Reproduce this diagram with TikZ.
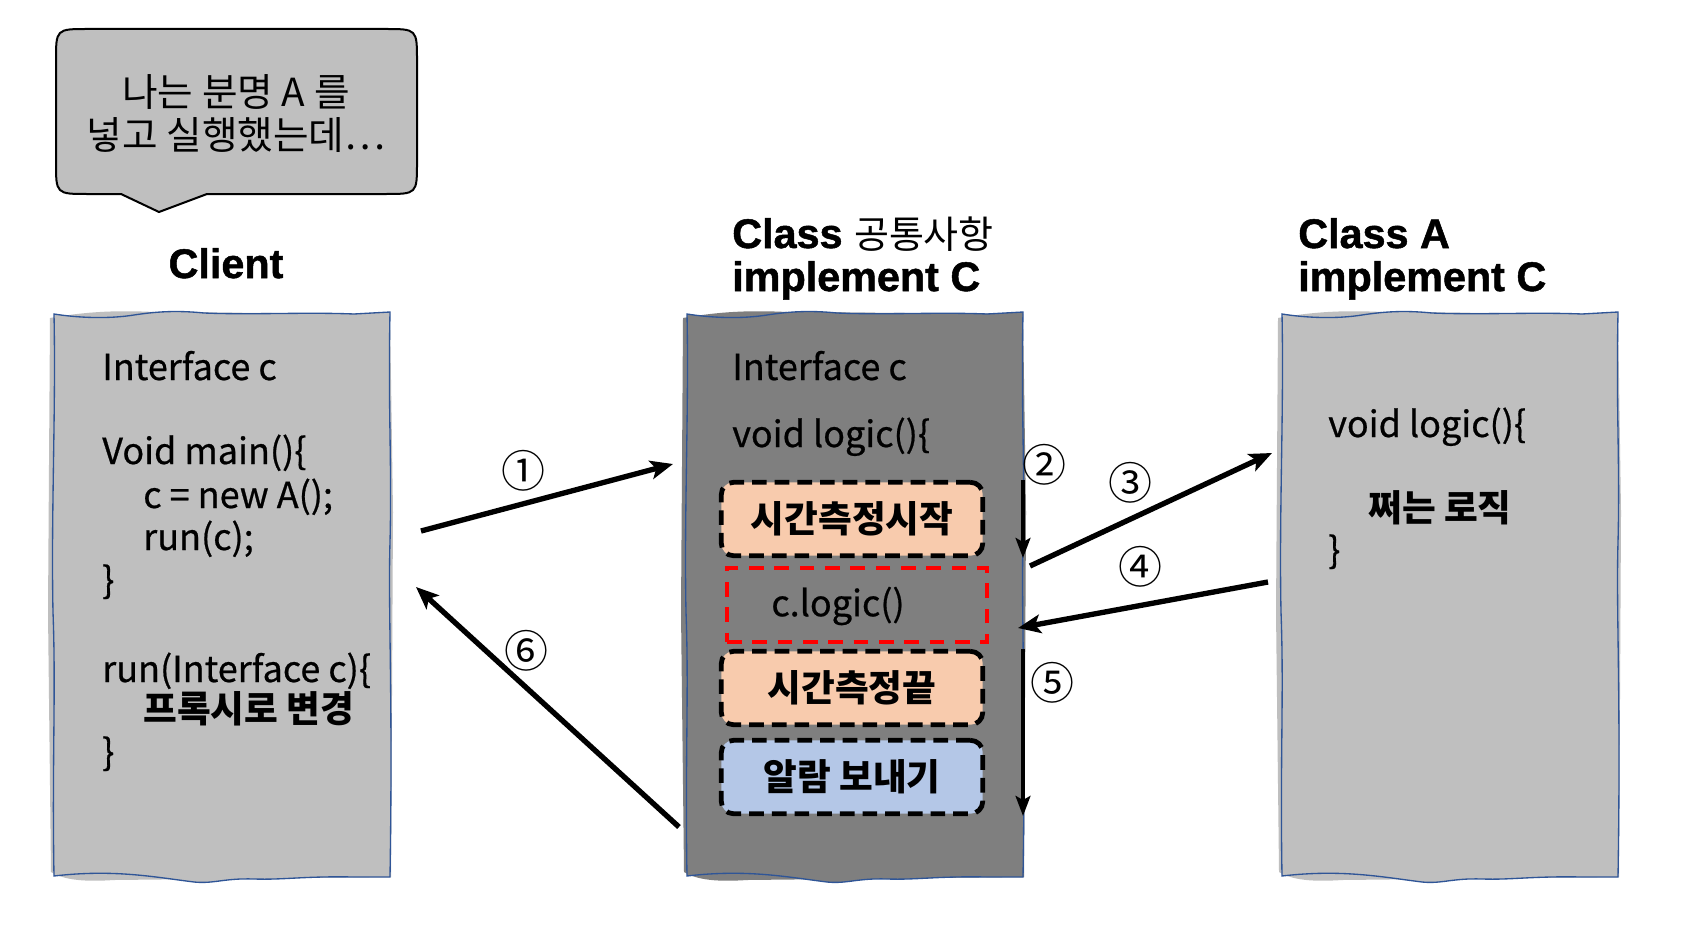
\documentclass[tikz,border=0pt]{standalone}
\usepackage{fontspec}
\setmainfont{Noto Sans CJK KR}
\newfontfamily\headfont{Liberation Sans}[FakeBold=1.2]
\newfontfamily\bodyfont{Noto Sans CJK KR}[FakeBold=0.6]
\usetikzlibrary{arrows.meta}
\definecolor{cGray}{HTML}{BFBFBF}
\definecolor{cDark}{HTML}{7F7F7F}
\definecolor{cEdge}{HTML}{2F5597}
\definecolor{cPeach}{HTML}{F8CBAD}
\definecolor{cBlue}{HTML}{B4C7E7}
\definecolor{cRed}{HTML}{FF0000}
\tikzset{
  x=0.75pt, y=-0.75pt,
  skline/.style={draw=cEdge, line width=1pt},
  pics/skbox/.style={code={
    \fill[#1] (-4,6) .. controls (30,0) and (60,-2) .. (100,0) -- (336,2) -- (339,200) -- (337,565)
      -- (60,568) .. controls (30,570) and (10,568) .. (-3,560) -- (-6,300) -- cycle;
    \draw[skline, fill=#1] (0,2) .. controls (25,6) and (55,7) .. (80,3) .. controls (100,0) and (120,-2) .. (150,1)
      .. controls (200,3) and (250,0) .. (300,2) -- (336,0)
      .. controls (334,100) and (338,150) .. (336,230) .. controls (334,300) and (339,380) .. (336,565)
      -- (300,565) .. controls (250,564) and (230,568) .. (200,567) .. controls (170,566) and (160,572) .. (140,570)
      .. controls (100,565) and (60,557) .. (0,564)
      .. controls (-2,450) and (2,380) .. (-1,300) .. controls (-3,200) and (2,100) .. (0,2) -- cycle;
  }},
  body/.style={inner sep=0pt, anchor=base west, font=\bodyfont\fontsize{27}{32}\selectfont},
  kbody/.style={inner sep=0pt, anchor=base west, font=\fontsize{27.5}{32}\selectfont\bfseries},
  head/.style={inner sep=0pt, anchor=base west, font=\headfont\fontsize{31}{36}\selectfont\bfseries},
  tbox/.style={draw=black, line width=3.6pt, dash pattern=on 11pt off 6pt, rounded corners=9pt,
    minimum width=196pt, minimum height=55pt, inner sep=0pt, font=\fontsize{27.5}{32}\selectfont\bfseries},
  rbox/.style={draw=cRed, line width=2.8pt, dash pattern=on 11pt off 8pt,
    minimum width=195pt, minimum height=55.5pt, inner sep=0pt},
  num/.style={inner sep=0pt, font=\fontsize{33}{33}\selectfont},
  arr/.style={draw=black, line width=4pt, -{Stealth[length=17pt,width=14pt,inset=4pt]}},
  varr/.style={draw=black, line width=3pt, -{Stealth[length=15pt,width=11pt,inset=3pt]}},
  bubble/.style={draw=black, line width=1.5pt, fill=cGray},
}
\begin{document}
\begin{tikzpicture}
\useasboundingbox[fill=white] (0,0) rectangle (1690,945);

% speech bubble
\draw[bubble] (121,194) -- (88,194) .. controls (56,194) .. (56,162) -- (56,61) .. controls (56,29) .. (88,29)
  -- (385,29) .. controls (417,29) .. (417,61) -- (417,162) .. controls (417,194) .. (385,194)
  -- (207,194) -- (159,212) -- cycle;
\node[inner sep=0pt, font=\fontsize{29}{32}\selectfont] (b1) at (236,92) {나는 분명 A 를};
\node[inner sep=0pt, font=\fontsize{29}{32}\selectfont] (b2) at (236,135) {넣고 실행했는데…};

% headings
\node[head, anchor=base] (hclient) at (226,278) {Client};
\node[head] (hmid1) at (732,248) {Class \normalfont\fontsize{28.5}{30}\selectfont 공통사항};
\node[head] (hmid2) at (732,291) {implement C};
\node[head] (ha1) at (1298,248) {Class A};
\node[head] (ha2) at (1298,291) {implement C};

% boxes
\pic at (54,312) {skbox=cGray};
\pic at (687,312) {skbox=cDark};
\pic at (1282,312) {skbox=cGray};

% client text
\node[body] (c1) at (102,380) {Interface c};
\node[body] (c2) at (102,464) {Void main()\{};
\node[body] (c3) at (143,508) {c = new A();};
\node[body] (c4) at (143,550) {run(c);};
\node[body] (c5) at (102,593) {\}};
\node[body] (c6) at (102,682) {run(Interface c)\{};
\node[kbody] (c7) at (143,722) {프록시로 변경};
\node[body] (c8) at (102,765) {\}};

% middle text
\node[body] (m1) at (732,380) {Interface c};
\node[body] (m2) at (732,447) {void logic()\{};
\node[tbox, fill=cPeach] (t1) at (852,519) {시간측정시작};
\node[rbox] (cl) at (857,605) {};
\node[body, anchor=center] (clt) at (838,606) {c.logic()};
\node[tbox, fill=cPeach] (t3) at (852,688) {시간측정끝};
\node[tbox, fill=cBlue] (t4) at (852,777) {알람 보내기};

% right text
\node[body] (r1) at (1328,437) {void logic()\{};
\node[kbody] (r2) at (1368,521) {쩌는 로직};
\node[body] (r3) at (1328,563) {\}};

% connector end points
\coordinate (midE) at (1023,0);
\coordinate (a1s) at (421,531);
\coordinate (a1e) at (673,464);
\coordinate (a3s) at (1030,566);
\coordinate (a3e) at (1272,453);
\coordinate (a4s) at (1268,582);
\coordinate (a4e) at (1018,628);
\coordinate (a6s) at (679,827);
\coordinate (a6e) at (416,587);

\draw[arr] (a1s) -- (a1e);
\draw[varr] (t1.north -| midE) -- (t1.south -| midE);
\draw[arr] (a3s) -- (a3e);
\draw[arr] (a4s) -- (a4e);
\draw[varr] (t3.north -| midE) -- (t4.south -| midE);
\draw[arr] (a6s) -- (a6e);

\node[num] (n1) at (523,471) {①};
\node[num] (n2) at (1044,465) {②};
\node[num] (n3) at (1130,483) {③};
\node[num] (n4) at (1140,567) {④};
\node[num] (n5) at (1052,683) {⑤};
\node[num] (n6) at (526,651) {⑥};
\end{tikzpicture}
\end{document}
